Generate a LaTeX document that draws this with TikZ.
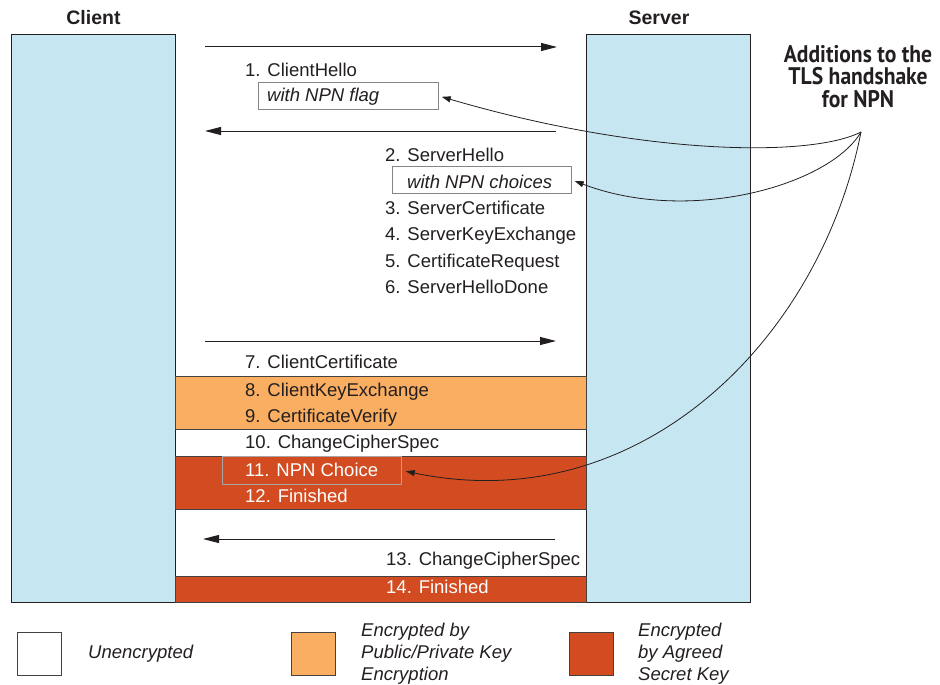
\documentclass[tikz,border=0pt]{standalone}
\usepackage{fontspec}
\setmainfont{Liberation Sans}
\newfontfamily\addfont[FakeStretch=0.9]{PT Sans}
\usetikzlibrary{arrows.meta}
\definecolor{lblue}{RGB}{198,231,241}
\definecolor{orng}{RGB}{250,174,98}
\definecolor{rred}{RGB}{211,75,32}
\definecolor{ink}{RGB}{35,31,32}
\begin{document}
\begin{tikzpicture}[x=1pt,y=-1pt,
  every node/.style={inner sep=0pt},
  lane/.style={draw=ink, line width=0.9pt, fill=lblue, anchor=north west, minimum width=164pt, minimum height=568pt},
  band/.style={draw=ink!85, line width=1pt, anchor=north west, minimum width=411pt},
  msgtxt/.style={anchor=base west, text=ink, font=\fontsize{18.5}{22}\selectfont},
  wtxt/.style={msgtxt, text=white},
  itxt/.style={msgtxt, font=\fontsize{18.5}{22}\selectfont\itshape},
  notebox/.style={draw=ink!55, line width=0.9pt, minimum width=180pt, minimum height=27pt, anchor=north west},
  msg/.style={draw=ink, line width=1pt, -{Triangle[length=16pt,width=8pt]}},
  callout/.style={draw=ink, line width=0.8pt, -{Triangle[length=9pt,width=6pt]}, shorten >=3pt},
  title/.style={anchor=base, text=ink, font=\fontsize{19.5}{22}\selectfont\bfseries},
  legsq/.style={draw=ink!85, line width=1pt, anchor=north west, minimum width=44pt, minimum height=43pt},
  legtxt/.style={anchor=west, align=left, text=ink, font=\fontsize{18.5}{22}\selectfont\itshape}]
\useasboundingbox (0,0) rectangle (940,685);
% lanes
\node[lane] (client) at (11,34) {};
\node[lane] (server) at (586,34) {};
\node[title] (clientlbl) at (93.5,25) {Client};
\node[title] (serverlbl) at (659,25) {Server};
% bands
\node[band, fill=orng, minimum height=53pt] (pkband) at (175,376) {};
\node[band, fill=rred, minimum height=53pt] (skband) at (175,456) {};
\node[band, fill=rred, minimum height=26pt] (finband) at (175,576) {};
% arrows
\coordinate (a1s) at (205,47); \coordinate (a1e) at (557,47);
\coordinate (a2s) at (556,131); \coordinate (a2e) at (205,131);
\coordinate (a3s) at (205,341); \coordinate (a3e) at (556,341);
\coordinate (a4s) at (555,539); \coordinate (a4e) at (203,539);
\draw[msg] (a1s) -- (a1e);
\draw[msg] (a2s) -- (a2e);
\draw[msg] (a3s) -- (a3e);
\draw[msg] (a4s) -- (a4e);
% messages
\node[msgtxt] (m1) at (245,77) {1. ClientHello};
\node[notebox, fill=white] (flag) at (258,82) {};
\node[itxt] (flagtxt) at (267,101) {with NPN flag};
\node[msgtxt] (m2) at (385,161) {2. ServerHello};
\node[notebox, fill=white, minimum width=179pt] (choices) at (392,166) {};
\node[itxt] (choicestxt) at (407,188) {with NPN choices};
\node[msgtxt] (m3) at (385,214) {3. ServerCertificate};
\node[msgtxt] (m4) at (385,240.5) {4. ServerKeyExchange};
\node[msgtxt] (m5) at (385,267) {5. CertificateRequest};
\node[msgtxt] (m6) at (385,293.5) {6. ServerHelloDone};
\node[msgtxt] (m7) at (245,368) {7. ClientCertificate};
\node[msgtxt] (m8) at (245,396) {8. ClientKeyExchange};
\node[msgtxt] (m9) at (245,422) {9. CertificateVerify};
\node[msgtxt] (m10) at (245,448) {10. ChangeCipherSpec};
\node[notebox, draw=ink!40, minimum width=179pt, minimum height=28pt] (npn) at (222,456) {};
\node[wtxt] (m11) at (245,476) {11. NPN Choice};
\node[wtxt] (m12) at (245,502) {12. Finished};
\node[msgtxt] (m13) at (386,565) {13. ChangeCipherSpec};
\node[wtxt] (m14) at (386,593) {14. Finished};
% callout
\node[anchor=base, align=center, text=ink, font=\fontsize{24}{22.5}\selectfont\addfont\bfseries] (add) at (858,107) {Additions to the\\TLS handshake\\for NPN};
\coordinate (src) at (861,132);
\draw[callout] (src) .. controls (810,158) and (640,155) .. (flag.east);
\draw[callout] (src) .. controls (830,185) and (690,225) .. (choices.east);
\draw[callout, shorten >=4pt] (src) .. controls (820,340) and (640,520) .. (npn.east);
% legend
\node[legsq, fill=white] (lw) at (17,632) {};
\node[legtxt] (lwt) at (88,654) {Unencrypted};
\node[legsq, fill=orng] (lo) at (291,632) {};
\node[legtxt] (lot) at (361,654) {Encrypted by\\Public/Private Key\\Encryption};
\node[legsq, fill=rred] (lr) at (569,632) {};
\node[legtxt] (lrt) at (638,654) {Encrypted\\by Agreed\\Secret Key};
\end{tikzpicture}
\end{document}
